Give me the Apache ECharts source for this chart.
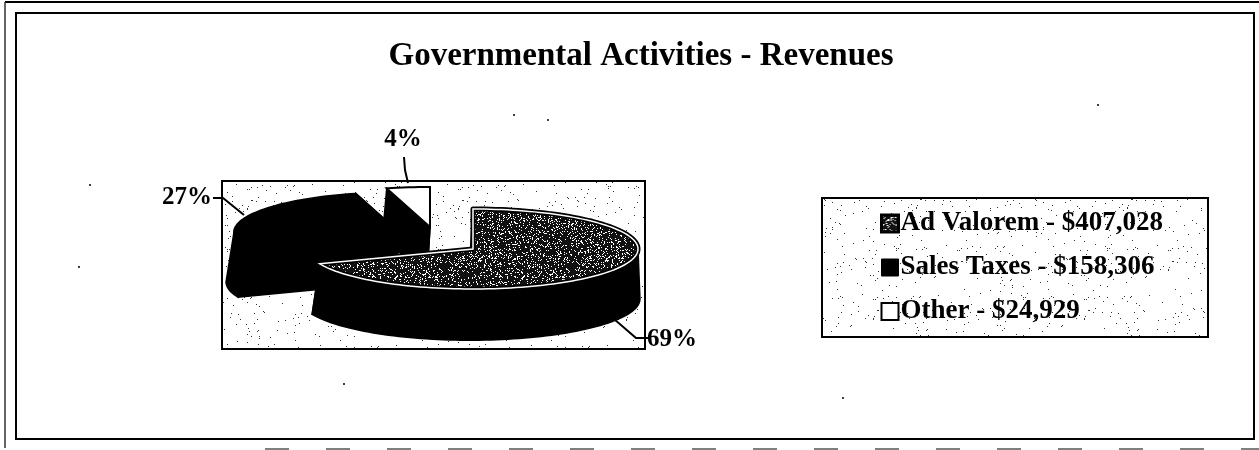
<!DOCTYPE html>
<html>
<head>
<meta charset="utf-8">
<style>
  html, body { margin: 0; padding: 0; background: #fff; }
  #chart { width: 1259px; height: 450px; }
</style>
<script src="https://cdn.jsdelivr.net/npm/echarts@6/dist/echarts.min.js"></script>
</head>
<body>
<div id="chart"></div>
<script>
const categories = ['Ad Valorem', 'Sales Taxes', 'Other']
const revenues = [407028, 158306, 24929]
const total = revenues.reduce((a, b) => a + b, 0)

const serif = '"Liberation Serif", serif'
const rx = 165
const ry = 40
const depth = 50
const bottomScale = 1.03
const bottomShift = -3

// where each exploded slice sits, and its label + leader line
const sliceLayout = {
  'Ad Valorem': { cx: 473, cy: 249, label: [672, 340], leader: [[614, 319], [636, 338], [650, 338]] },
  'Sales Taxes': { cx: 399, cy: 232, label: [187, 198], leader: [[213, 198], [223, 198], [244, 215]] },
  Other: { cx: 430, cy: 227, label: [403, 140], leader: [[404, 157], [405, 170], [408, 183]] }
}

// scanned-paper texture, seeded so that it stays the same on every load
function speckle(size, base, dot, density) {
  const c = document.createElement('canvas')
  c.width = c.height = size
  const ctx = c.getContext('2d')
  ctx.fillStyle = base
  ctx.fillRect(0, 0, size, size)
  ctx.fillStyle = dot
  let seed = 12345
  for (let y = 0; y < size; y++) {
    for (let x = 0; x < size; x++) {
      seed = (seed * 1103515245 + 12345) & 0x7fffffff
      if ((seed >> 8) % 1000 < density * 1000) ctx.fillRect(x, y, 1, 1)
    }
  }
  return c
}
const paper = { image: speckle(211, '#fff', '#333', 0.012), repeat: 'repeat' }
const dark = { image: speckle(127, '#111', '#fff', 0.16), repeat: 'repeat' }

function point(cx, cy, deg, scale) {
  const a = deg * Math.PI / 180
  return [cx + rx * scale * Math.sin(a), cy - ry * scale * Math.cos(a)]
}

function arc(cx, cy, from, to, scale) {
  const pts = []
  const steps = Math.max(2, Math.ceil((to - from) / 2))
  for (let i = 0; i <= steps; i++) pts.push(point(cx, cy, from + (to - from) * i / steps, scale))
  return pts
}

const black = { fill: '#000', stroke: '#000', lineWidth: 1.5 }

function renderSlice(name, startDeg, endDeg) {
  const { cx, cy, label, leader } = sliceLayout[name]
  const value = revenues[categories.indexOf(name)]
  const floorX = cx + bottomShift
  const floorY = cy + depth
  const children = []
  const poly = (points, style) => children.push({ type: 'polygon', shape: { points }, style })

  // cut faces first, then the visible part of the rim, top face last
  ;[startDeg, endDeg].forEach((deg) => {
    poly([[cx, cy], point(cx, cy, deg, 1), point(floorX, floorY, deg, bottomScale), [floorX, floorY]], black)
  })
  const frontFrom = Math.max(startDeg, 90)
  const frontTo = Math.min(endDeg, 270)
  if (frontTo > frontFrom) {
    poly(arc(cx, cy, frontFrom, frontTo, 1).concat(arc(floorX, floorY, frontFrom, frontTo, bottomScale).reverse()), black)
  }
  const top = [[cx, cy]].concat(arc(cx, cy, startDeg, endDeg, 1))
  if (name === 'Ad Valorem') {
    poly(top, { fill: dark, stroke: '#000', lineWidth: 5, lineJoin: 'round' })
    poly(top, { fill: 'none', stroke: '#fff', lineWidth: 1.5 })
  } else if (name === 'Sales Taxes') {
    poly(top, black)
  } else {
    poly(top, { fill: '#fff', stroke: '#000', lineWidth: 2 })
  }

  children.push({ type: 'polyline', shape: { points: leader }, style: { fill: 'none', stroke: '#000', lineWidth: 2 } })
  children.push({
    type: 'text',
    style: {
      x: label[0],
      y: label[1],
      text: Math.round(value / total * 100) + '%',
      fill: '#000',
      font: 'bold 25px ' + serif,
      align: 'center',
      verticalAlign: 'middle'
    }
  })
  return { type: 'group', children }
}

let running = 0
const series = categories.map((name, i) => {
  const startDeg = running
  running += revenues[i] / total * 360
  const endDeg = running
  return {
    type: 'custom',
    name,
    coordinateSystem: 'none',
    silent: true,
    // main slice goes on top of the two pulled out ones
    z: i === 0 ? 4 : 3,
    data: [revenues[i]],
    renderItem: () => renderSlice(name, startDeg, endDeg)
  }
})

const frame = (x, y, w, h, lineWidth) => ({
  type: 'rect',
  shape: { x, y, width: w, height: h },
  style: { fill: 'none', stroke: '#000', lineWidth }
})

const specks = [[90, 185], [79, 267], [514, 115], [548, 120], [344, 384], [843, 398], [1098, 105]]

const myChart = echarts.init(document.getElementById('chart'))
myChart.setOption({
  animation: false,
  backgroundColor: '#fff',
  title: {
    text: 'Governmental Activities - Revenues',
    left: 636,
    top: 35,
    textAlign: 'center',
    textStyle: { fontFamily: serif, fontWeight: 'bold', fontSize: 33, color: '#000' }
  },
  legend: {
    orient: 'vertical',
    left: 822,
    top: 198,
    padding: [12, 45, 12, 58],
    itemGap: 17,
    itemWidth: 17,
    itemHeight: 17,
    backgroundColor: paper,
    borderColor: '#000',
    borderWidth: 2,
    selectedMode: false,
    data: [
      { name: categories[0], icon: 'rect', itemStyle: { color: dark, borderColor: '#000', borderWidth: 3 } },
      { name: categories[1], icon: 'rect', itemStyle: { color: '#000', borderColor: '#000', borderWidth: 1 } },
      { name: categories[2], icon: 'rect', itemStyle: { color: '#fff', borderColor: '#000', borderWidth: 2 } }
    ],
    formatter: (name) => name + ' - $' + revenues[categories.indexOf(name)].toLocaleString('en-US'),
    textStyle: { fontFamily: serif, fontWeight: 'bold', fontSize: 27, color: '#000', padding: [0, 0, 0, -3] }
  },
  graphic: {
    elements: [
      { type: 'rect', shape: { x: 222, y: 181, width: 423, height: 168 }, style: { fill: paper, stroke: '#000', lineWidth: 2 } },
      frame(16, 13, 1238, 426, 2),
      { type: 'line', shape: { x1: 5, y1: 2, x2: 1259, y2: 2 }, style: { stroke: '#000', lineWidth: 2 } },
      { type: 'line', shape: { x1: 5, y1: 2, x2: 5, y2: 448 }, style: { stroke: '#333', lineWidth: 1.5 } },
      { type: 'line', shape: { x1: 265, y1: 449, x2: 1259, y2: 449 }, style: { stroke: '#555', lineWidth: 1.5, lineDash: [24, 37] } }
    ].concat(specks.map(([x, y]) => ({ type: 'circle', shape: { cx: x, cy: y, r: 1 }, style: { fill: '#000' } })))
  },
  series
})
</script>
</body>
</html>
